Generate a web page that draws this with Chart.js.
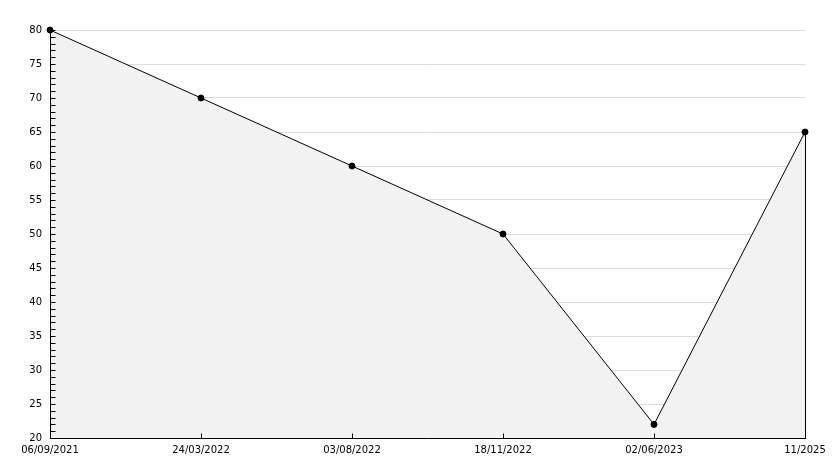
<!DOCTYPE html>
<html>
<head>
<meta charset="utf-8">
<script src="https://cdn.jsdelivr.net/npm/chart.js@4/dist/chart.umd.min.js"></script>
<style>
  body { margin: 0; background: #fff; }
  canvas { display: block; }
</style>
</head>
<body>
<canvas id="grafico" width="834" height="468"></canvas>
<script>
// dados do grafico
const datas = ['06/09/2021', '24/03/2022', '03/08/2022', '18/11/2022', '02/06/2023', '11/2025'];
const valores = [80, 70, 60, 50, 22, 65];
const yMin = 20;
const yMax = 80;
const passoY = 5;
const passoMenor = 1;

// desenha eixos, marcas menores e a borda final da area
const marcasEixo = {
    id: 'marcasEixo',
    afterDatasetsDraw(chart) {
        const { ctx, chartArea: a, scales: { x, y } } = chart;
        ctx.save();
        ctx.strokeStyle = '#000';
        ctx.lineWidth = 1;
        ctx.beginPath();
        const esq = Math.round(a.left) + 0.5;
        const base = Math.round(a.bottom) + 0.5;
        ctx.moveTo(esq, Math.round(a.top));
        ctx.lineTo(esq, base);
        ctx.lineTo(Math.round(a.right) + 1, base);
        // marcas do eixo y (para dentro)
        for (let v = yMin; v <= yMax; v += passoMenor) {
            const py = Math.round(y.getPixelForValue(v)) + 0.5;
            ctx.moveTo(esq, py);
            ctx.lineTo(esq + 5, py);
        }
        // marcas do eixo x (para cima)
        datas.forEach((d, i) => {
            const px = Math.round(x.getPixelForValue(i)) + 0.5;
            ctx.moveTo(px, base);
            ctx.lineTo(px, base - 5);
        });
        // lado direito da area preenchida
        const ultimo = datas.length - 1;
        const pxU = Math.round(x.getPixelForValue(ultimo)) + 0.5;
        ctx.moveTo(pxU, y.getPixelForValue(valores[ultimo]));
        ctx.lineTo(pxU, base);
        ctx.stroke();
        ctx.restore();
    }
};

const ctx = document.getElementById('grafico').getContext('2d');
new Chart(ctx, {
    type: 'line',
    data: {
        labels: datas,
        datasets: [{
            data: valores,
            borderColor: '#000',
            borderWidth: 1,
            backgroundColor: '#f2f2f2',
            fill: 'start',
            tension: 0,
            pointRadius: 3,
            pointHoverRadius: 3,
            pointStyle: 'circle',
            pointBackgroundColor: '#000',
            pointBorderColor: '#000',
            pointBorderWidth: 1
        }]
    },
    options: {
        responsive: false,
        animation: false,
        clip: false,
        layout: { padding: { top: 30, right: 29, left: 0, bottom: 0 } },
        plugins: { legend: { display: false }, tooltip: { enabled: false } },
        scales: {
            x: {
                type: 'category',
                offset: false,
                grid: { display: false, drawTicks: false },
                border: { display: false },
                ticks: {
                    color: '#000',
                    font: { family: 'DejaVu Sans', size: 10 },
                    maxRotation: 0,
                    autoSkip: false,
                    padding: 6
                },
                afterFit(scale) { scale.height = 30; }
            },
            y: {
                min: yMin,
                max: yMax,
                grid: { color: '#dcdcdc', drawTicks: false },
                border: { display: false },
                ticks: {
                    stepSize: passoY,
                    color: '#000',
                    font: { family: 'DejaVu Sans', size: 10 },
                    padding: 8
                },
                afterFit(scale) { scale.width = 50; }
            }
        }
    },
    plugins: [marcasEixo]
});
</script>
</body>
</html>
